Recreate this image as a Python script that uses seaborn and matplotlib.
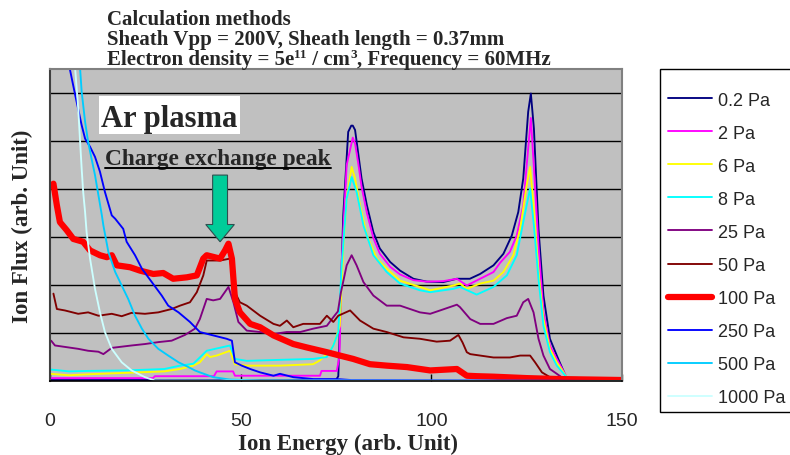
import matplotlib
matplotlib.use("Agg")
import matplotlib.pyplot as plt
import seaborn as sns
import pandas as pd
from matplotlib.patches import FancyArrow, Rectangle
from matplotlib.lines import Line2D

# ---------------- data ----------------
series_labels = ["0.2 Pa", "2 Pa", "6 Pa", "8 Pa", "25 Pa", "50 Pa",
                 "100 Pa", "250 Pa", "500 Pa", "1000 Pa"]
series_colors = ["#000080", "#FF00FF", "#FFFF00", "#00FFFF", "#800080",
                 "#800000", "#FF0000", "#0000FF", "#00CCFF", "#CCFFFF"]
x_ticks = [0, 50, 100, 150]
x_tick_labels = ["0", "50", "100", "150"]

x_p02 = [0, 75.0, 75.6, 76.9, 78.2, 79.0, 79.4, 80.0, 80.9, 81.7, 83.1, 84.8, 86.5, 89.2, 91.8,
         95.3, 98.8, 103.1, 106.7, 110.1, 112.8, 116.3, 118.9, 121.1, 122.8, 124.1, 125.4,
         126.1, 126.9, 128.1, 129.4, 131.1, 132.9, 135.5, 150]
y_p02 = [0.02, 0.02, 0.1, 3.45, 5.19, 5.32, 5.32, 5.23, 4.7, 4.22, 3.66, 3.1, 2.76, 2.48, 2.3,
         2.13, 2.07, 2.06, 2.13, 2.13, 2.23, 2.41, 2.65, 3.03, 3.52, 4.22, 5.61,
         5.99, 5.26, 3.17, 1.78, 0.88, 0.53, 0.05, 0.0]

x_p2 = [0, 27.0, 27.5, 43.0, 43.7, 48.0, 48.5, 70.8, 71.2, 75.2, 75.9, 76.5, 77.8, 79.4, 80.0,
        80.9, 81.7, 83.1, 84.8, 86.5, 89.2, 91.8, 95.3, 98.8, 103.1, 106.7, 109.3, 112.8,
        116.3, 118.0, 120.6, 122.4, 124.1, 125.0, 126.1, 126.8, 128.1, 129.4, 131.1, 132.9,
        135.5, 150]
y_p2 = [0.06, 0.06, 0.1, 0.1, 0.2, 0.2, 0.11, 0.11, 0.21, 0.21, 0.5, 2.5, 4.5, 5.07, 4.95,
        4.5, 4.05, 3.5, 2.98, 2.65, 2.38, 2.22, 2.1, 2.07, 2.08, 2.13, 1.99, 2.13,
        2.27, 2.46, 2.69, 3.03, 3.66, 4.49, 5.48, 4.57, 2.82, 1.43, 0.74, 0.46,
        0.08, 0.0]

x_p6 = [0, 5, 10, 20, 30, 34.1, 37.6, 39.3, 41.1, 42.0, 43.7, 47.2, 48.5, 51.6, 60.3, 69.0,
        70.8, 73.4, 74.3, 76.0, 76.9, 77.8, 79.1, 80.0, 81.3, 83.1, 85.7, 88.3, 91.8, 97.0,
        99.7, 105.8, 107.5, 109.3, 112.8, 116.3, 118.9, 121.5, 123.3, 125.0, 125.9, 126.8,
        128.1, 129.4, 131.1, 132.9, 135.5, 150]
y_p6 = [0.15, 0.12, 0.14, 0.17, 0.2, 0.25, 0.32, 0.39, 0.56, 0.5, 0.53, 0.63, 0.35, 0.32, 0.32, 0.35,
        0.43, 0.63, 0.74, 1.15, 2.76, 3.8, 4.46, 4.22, 3.66, 3.03, 2.55, 2.34, 2.09, 1.96,
        1.89, 1.99, 2.03, 1.92, 2.03, 2.09, 2.27, 2.62, 3.17, 4.08, 4.46, 3.66,
        2.27, 1.29, 0.67, 0.39, 0.08, 0.0]

x_p8 = [0, 5, 10, 20, 30, 34.1, 37.6, 41.1, 47.2, 48.5, 51.6, 60.0, 69.0, 72.6, 74.3, 75.6,
        76.5, 77.8, 79.1, 80.4, 82.2, 84.8, 88.3, 91.8, 97.0, 99.7, 105.8, 107.5, 111.9,
        116.3, 119.8, 122.4, 124.1, 125.9, 126.9, 128.1, 129.4, 131.1, 132.9, 135.5, 150]
y_p8 = [0.24, 0.2, 0.21, 0.22, 0.25, 0.32, 0.36, 0.63, 0.74, 0.46, 0.42, 0.44, 0.46, 0.5, 0.74, 1.02,
        2.41, 3.8, 4.25, 3.94, 3.24, 2.62, 2.27, 2.03, 1.89, 1.85, 1.92, 1.96, 1.8,
        1.96, 2.2, 2.62, 3.31, 4.01, 3.24, 2.13, 1.15, 0.6, 0.32, 0.08, 0.0]

x_p25 = [0.3, 1.3, 7.4, 10.0, 12.7, 14.0, 16.2, 21.4, 24.9, 28.4, 31.9, 35.4, 38.0, 39.3, 41.1,
         42.8, 44.6, 46.8, 48.1, 49.4, 51.6, 55.1, 58.6, 62.1, 65.6, 69.0, 72.6, 74.3, 75.5,
         76.3, 77.8, 79.1, 80.4, 82.2, 84.8, 88.3, 91.8, 97.0, 99.7, 102.3, 106.7, 107.5,
         110.2, 112.8, 116.3, 119.8, 122.4, 124.1, 125.4, 126.8, 128.1, 129.4, 131.1, 132.9,
         134.5, 150]
y_p25 = [0.84, 0.74, 0.67, 0.63, 0.61, 0.56, 0.69, 0.74, 0.77, 0.81, 0.84, 0.96, 1.09, 1.29, 1.71,
         1.68, 1.71, 1.96, 1.64, 1.23, 1.05, 1.02, 0.98, 1.02, 1.02, 1.09, 1.15, 1.33, 1.45,
         1.85, 2.41, 2.62, 2.41, 2.06, 1.78, 1.57, 1.57, 1.43, 1.4, 1.47, 1.59, 1.54,
         1.29, 1.19, 1.19, 1.31, 1.36, 1.64, 1.71, 1.43, 0.88, 0.53, 0.25, 0.15,
         0.06, 0.0]

x_p50 = [0.9, 1.8, 3.9, 7.4, 10.0, 12.7, 16.2, 18.8, 21.4, 24.9, 28.4, 31.9, 34.1, 36.7, 38.5,
         40.2, 41.1, 44.6, 47.2, 48.5, 49.8, 51.6, 55.1, 58.6, 60.3, 62.1, 63.8, 66.4, 70.8,
         72.6, 74.3, 75.6, 78.7, 81.3, 84.8, 88.3, 92.7, 97.0, 101.4, 104.9, 107.1, 108.2,
         109.3, 110.2, 112.8, 116.3, 120.6, 123.3, 125.9, 127.2, 129.0, 131.1, 133.0, 150]
y_p50 = [1.82, 1.5, 1.47, 1.4, 1.43, 1.36, 1.4, 1.35, 1.42, 1.4, 1.43, 1.5, 1.57, 1.64, 1.85,
         2.2, 2.51, 2.51, 2.55, 1.85, 1.64, 1.57, 1.36, 1.19, 1.15, 1.26, 1.12, 1.19, 1.19,
         1.36, 1.23, 1.36, 1.47, 1.26, 1.09, 1.02, 0.91, 0.88, 0.82, 0.84, 0.96, 0.8,
         0.6, 0.56, 0.53, 0.49, 0.49, 0.53, 0.53, 0.39, 0.18, 0.08, 0.02, 0.0]

x_p100 = [0.9, 1.8, 2.6, 4.4, 6.1, 8.7, 10.5, 13.1, 14.9, 16.2, 17.5, 21.0, 23.6, 27.1, 29.7,
          32.3, 35.9, 38.5, 40.2, 41.1, 44.6, 45.9, 46.8, 47.7, 48.5, 49.8, 52.5, 55.1, 58.6,
          63.8, 67.3, 72.6, 76.0, 79.5, 83.9, 88.3, 93.6, 99.7, 106.7, 109.3, 112.0, 116.3,
          125.0, 133.8, 150]
y_p100 = [4.11, 3.66, 3.31, 3.14, 2.96, 2.9, 2.72, 2.62, 2.58, 2.62, 2.41, 2.37, 2.3, 2.23, 2.25,
          2.13, 2.16, 2.2, 2.55, 2.62, 2.55, 2.72, 2.86, 2.55, 1.71, 1.43, 1.19, 1.12, 0.95,
          0.77, 0.7, 0.6, 0.53, 0.46, 0.35, 0.32, 0.29, 0.22, 0.25, 0.11, 0.1, 0.09,
          0.06, 0.04, 0.02]

x_p250 = [5.2, 6.6, 8.3, 9.2, 10.5, 11.8, 13.1, 14.4, 16.2, 17.1, 19.2, 20.1, 22.3, 24.1, 26.7,
          29.3, 31.0, 33.7, 36.7, 39.3, 42.8, 46.3, 47.7, 48.5, 50.3, 52.5, 55.1, 58.6, 60.3,
          63.8, 69.1, 75.2, 79.0, 150]
y_p250 = [6.5, 5.96, 5.33, 5.05, 4.88, 4.67, 4.36, 3.94, 3.45, 3.38, 3.17, 2.9, 2.62, 2.34, 2.06,
          1.78, 1.57, 1.43, 1.23, 1.02, 0.95, 0.88, 0.84, 0.39, 0.32, 0.25, 0.18, 0.11, 0.15,
          0.08, 0.04, 0.04, 0.02, 0.0]

x_p500 = [7.9, 8.3, 9.2, 10.0, 10.9, 11.8, 12.7, 13.6, 14.0, 15.3, 17.1, 18.8, 20.5, 22.3, 24.1,
          25.8, 28.4, 31.0, 33.7, 36.3, 38.0, 39.3, 42.8, 47.2, 55.0, 150]
y_p500 = [6.5, 6.03, 5.4, 4.98, 4.63, 4.29, 3.87, 3.45, 3.24, 2.69, 2.27, 1.99, 1.71, 1.36, 1.09,
          0.88, 0.67, 0.53, 0.39, 0.29, 0.22, 0.18, 0.08, 0.03, 0.01, 0.0]

x_p1000 = [6.6, 7.4, 7.9, 8.3, 8.7, 9.2, 9.6, 10.5, 11.8, 13.1, 14.4, 16.2, 18.8, 21.4, 24.9, 27.5, 150]
y_p1000 = [6.5, 5.68, 4.98, 4.43, 3.94, 3.52, 3.1, 2.55, 1.92, 1.43, 1.02, 0.67, 0.39, 0.22, 0.08, 0.01, 0.0]

series_x = [x_p02, x_p2, x_p6, x_p8, x_p25, x_p50, x_p100, x_p250, x_p500, x_p1000]
series_y = [y_p02, y_p2, y_p6, y_p8, y_p25, y_p50, y_p100, y_p250, y_p500, y_p1000]

frames = []
for lab, xs, ys in zip(series_labels, series_x, series_y):
    frames.append(pd.DataFrame({"energy": xs, "flux": ys, "series": lab}))
df = pd.concat(frames, ignore_index=True)

# ---------------- style ----------------
sns.set_theme(style="white")
plt.rcParams["font.family"] = ["Liberation Sans", "DejaVu Sans"]
SERIF = ["Liberation Serif", "DejaVu Serif"]

W, H = 790, 456
fig = plt.figure(figsize=(W / 100, H / 100), dpi=100)
ax = fig.add_axes([50 / W, 1 - 382 / H, 572 / W, 312 / H])
ax.set_facecolor("#C0C0C0")

for lab, col in zip(series_labels, series_colors):
    sub = df[df["series"] == lab]
    lw = 4.5 if lab == "100 Pa" else 1.35
    sns.lineplot(data=sub, x="energy", y="flux", color=col, lw=lw, ax=ax,
                 estimator=None, sort=False, legend=False,
                 solid_joinstyle="round", solid_capstyle="round")

ax.set_xlim(0, 150)
ax.set_ylim(0, 6.5)
ax.set_yticks([1, 2, 3, 4, 5, 6])
ax.set_yticklabels([])
ax.yaxis.grid(True, color="black", lw=1.0)
ax.xaxis.grid(False)
ax.set_xticks(x_ticks)
ax.set_xticklabels(x_tick_labels)
ax.tick_params(axis="x", direction="in", length=5, width=1, color="black",
               pad=22, labelsize=14, bottom=True)
ax.tick_params(axis="y", length=0, left=False)
ax.set_xlabel("")
ax.set_ylabel("")
for s in ["top", "right"]:
    ax.spines[s].set_color("#808080")
    ax.spines[s].set_linewidth(1.5)
ax.spines["left"].set_color("#404040")
ax.spines["left"].set_linewidth(1.5)
ax.spines["bottom"].set_color("black")
ax.spines["bottom"].set_linewidth(1.2)

# axis titles
fig.text(348 / W, 1 - 450 / H, "Ion Energy (arb. Unit)", family=SERIF, weight="bold",
         fontsize=16.5, ha="center", va="baseline")
fig.text(22 / W, 1 - 226 / H, "Ion Flux (arb. Unit)", family=SERIF, weight="bold",
         fontsize=16.5, ha="center", va="center", rotation=90)

# chart title (three lines, superscripts placed as small raised texts)
renderer = fig.canvas.get_renderer()
fig.text(107 / W, 1 - 25 / H, "Calculation methods", family=SERIF, weight="bold",
         fontsize=15, ha="left", va="baseline")
fig.text(107 / W, 1 - 45 / H, "Sheath Vpp = 200V, Sheath length = 0.37mm", family=SERIF,
         weight="bold", fontsize=15, ha="left", va="baseline")
line3_parts = [("Electron density = 5e", False), ("11", True), (" / cm", False),
               ("3", True), (", Frequency = 60MHz", False)]
xpix = 107.0
for txt, sup in line3_parts:
    base = 65 - (6.5 if sup else 0)
    t = fig.text(xpix / W, 1 - base / H, txt, family=SERIF, weight="bold",
                 fontsize=(9.5 if sup else 15), ha="left", va="baseline")
    ext = t.get_window_extent(renderer)
    xpix = ext.x1 + (0.5 if sup else 0)

# "Ar plasma" label in a white box
ax.add_patch(Rectangle(((99 - 50) / 572, (382 - 135) / 312), 141 / 572, 38 / 312,
                       transform=ax.transAxes, facecolor="white", edgecolor="none", zorder=5))
ax.text((101 - 50) / 572, (382 - 127) / 312, "Ar plasma", transform=ax.transAxes,
        family=SERIF, weight="bold", fontsize=22, ha="left", va="baseline", zorder=6)

# "Charge exchange peak" underlined
cep = ax.text((105 - 50) / 572, (382 - 165) / 312, "Charge exchange peak", transform=ax.transAxes,
              family=SERIF, weight="bold", fontsize=16.8, ha="left", va="baseline", zorder=6)
fig.canvas.draw()
bb = cep.get_window_extent().transformed(ax.transAxes.inverted())
uy = (382 - 168.5) / 312
ax.add_line(Line2D([bb.x0, bb.x1], [uy, uy], transform=ax.transAxes, color="black",
                   lw=1.4, zorder=6))

# arrow pointing at the peak
ax.add_patch(FancyArrow(44.6, 4.29, 0, -(4.29 - 2.90), width=3.9, head_width=7.5,
                        head_length=0.36, length_includes_head=True,
                        facecolor="#00CC99", edgecolor="#2F4F4F", lw=0.8, zorder=7))

# legend with frame
fig.add_artist(Rectangle((660 / W, 1 - 413 / H), 140 / W, 343 / H, transform=fig.transFigure,
                         facecolor="white", edgecolor="black", lw=1.0, zorder=1))
handles = [Line2D([], [], color=c, lw=(4.5 if l == "100 Pa" else 1.35),
                  solid_capstyle="round") for l, c in zip(series_labels, series_colors)]
fig.legend(handles, series_labels, loc="upper left",
           bbox_to_anchor=(668 / W, 1 - 92.5 / H), bbox_transform=fig.transFigure,
           frameon=False, borderpad=0, borderaxespad=0, handlelength=2.44,
           handletextpad=0.33, labelspacing=0.89, fontsize=13)

fig.savefig("out.png", dpi=100)
